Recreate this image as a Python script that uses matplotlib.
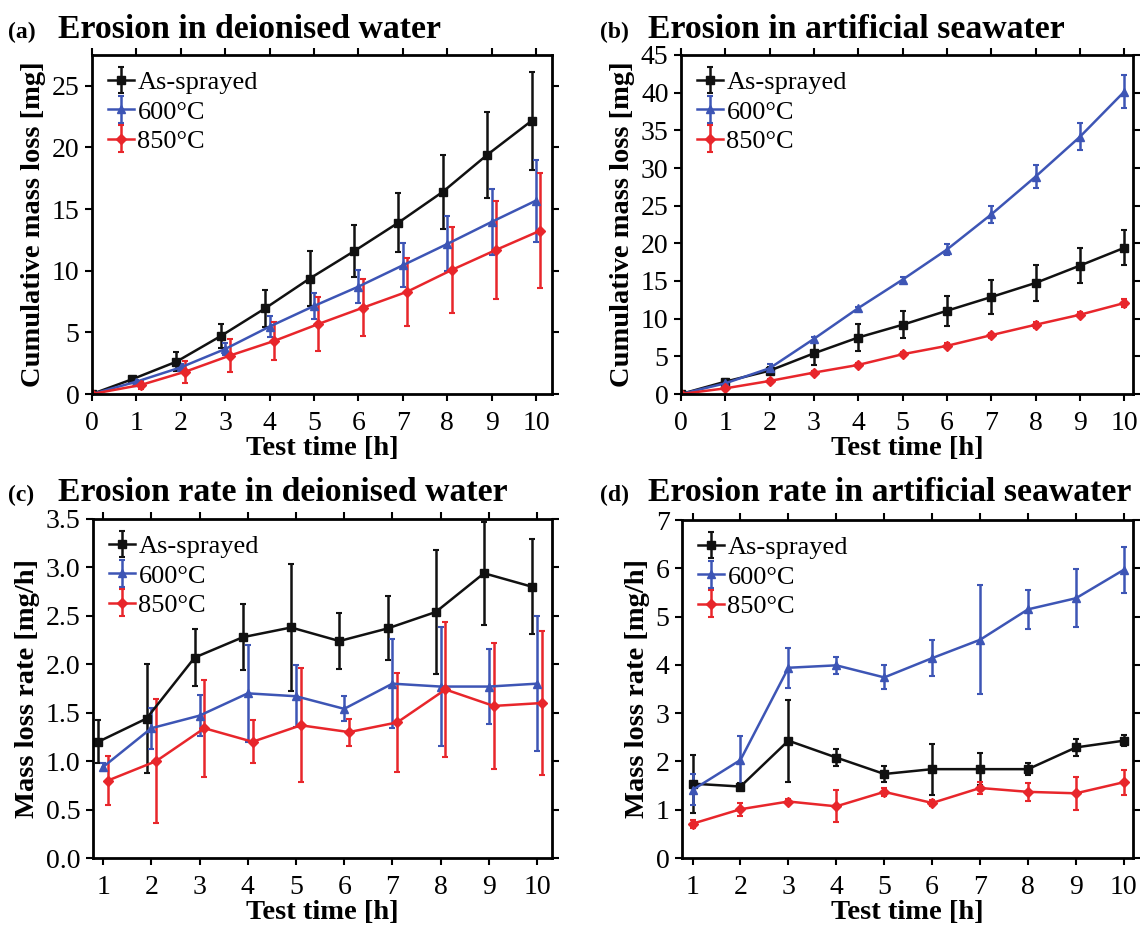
import matplotlib
matplotlib.use('Agg')
import matplotlib.pyplot as plt
import numpy as np

plt.rcParams['font.family'] = ['Liberation Serif', 'DejaVu Serif']

labels = ['As-sprayed', '600°C', '850°C']
colors = ['#111111', '#3d55b5', '#e8262b']
markers = ['s', '^', 'D']

time_cum = [0, 1, 2, 3, 4, 5, 6, 7, 8, 9, 10]
time_rate = [1, 2, 3, 4, 5, 6, 7, 8, 9, 10]

# (a) cumulative mass loss, deionised water
a_as = [0, 1.19, 2.62, 4.70, 6.95, 9.36, 11.58, 13.90, 16.40, 19.40, 22.16]
a_as_err = [0, 0.2, 0.76, 0.97, 1.49, 2.2, 2.1, 2.4, 3.0, 3.5, 3.95]
a_600 = [0, 1.00, 2.16, 3.65, 5.47, 7.14, 8.71, 10.44, 12.17, 13.96, 15.69]
a_600_err = [0, 0.15, 0.3, 0.5, 0.84, 1.05, 1.35, 1.8, 2.23, 2.7, 3.33]
a_850 = [0, 0.73, 1.81, 3.11, 4.30, 5.68, 7.00, 8.30, 10.06, 11.69, 13.26]
a_850_err = [0, 0.3, 0.88, 1.35, 1.54, 2.16, 2.3, 2.77, 3.46, 4.0, 4.7]

# (b) cumulative mass loss, artificial seawater
b_as = [0, 1.64, 3.10, 5.40, 7.50, 9.19, 11.05, 12.87, 14.74, 17.04, 19.40]
b_as_err = [0, 0.3, 0.5, 1.55, 1.8, 1.8, 2.0, 2.3, 2.45, 2.35, 2.33]
b_600 = [0, 1.42, 3.42, 7.32, 11.40, 15.18, 19.17, 23.83, 28.85, 34.13, 40.12]
b_600_err = [0, 0.2, 0.6, 0.3, 0.2, 0.4, 0.7, 1.1, 1.55, 1.8, 2.2]
b_850 = [0, 0.75, 1.73, 2.84, 3.86, 5.28, 6.39, 7.81, 9.19, 10.52, 12.07]
b_850_err = [0, 0.2, 0.2, 0.2, 0.25, 0.3, 0.35, 0.35, 0.4, 0.35, 0.58]

# (c) mass loss rate, deionised water
c_as = [1.20, 1.44, 2.07, 2.28, 2.38, 2.24, 2.37, 2.54, 2.94, 2.80]
c_as_err = [0.22, 0.56, 0.29, 0.34, 0.66, 0.29, 0.33, 0.64, 0.53, 0.49]
c_600 = [0.94, 1.34, 1.47, 1.70, 1.67, 1.54, 1.80, 1.77, 1.77, 1.80]
c_600_err = [0.04, 0.21, 0.21, 0.50, 0.32, 0.13, 0.46, 0.61, 0.39, 0.70]
c_850 = [0.80, 1.00, 1.34, 1.20, 1.37, 1.30, 1.40, 1.74, 1.57, 1.60]
c_850_err = [0.25, 0.64, 0.50, 0.22, 0.59, 0.14, 0.51, 0.70, 0.65, 0.74]

# (d) mass loss rate, artificial seawater
d_as = [1.54, 1.48, 2.43, 2.08, 1.74, 1.84, 1.84, 1.84, 2.29, 2.43]
d_as_err = [0.60, 0.08, 0.85, 0.17, 0.16, 0.53, 0.33, 0.12, 0.17, 0.11]
d_600 = [1.41, 2.03, 3.94, 3.99, 3.74, 4.14, 4.52, 5.15, 5.38, 5.97]
d_600_err = [0.32, 0.49, 0.41, 0.17, 0.25, 0.37, 1.13, 0.40, 0.60, 0.48]
d_850 = [0.71, 1.01, 1.17, 1.07, 1.37, 1.14, 1.45, 1.37, 1.34, 1.57]
d_850_err = [0.08, 0.13, 0.05, 0.33, 0.08, 0.07, 0.12, 0.19, 0.34, 0.26]

fig = plt.figure(figsize=(11.45, 9.27), dpi=100)

W, H = 1145.0, 927.0
def rect(l, t, r, b):
    return [l / W, 1 - b / H, (r - l) / W, (b - t) / H]

panels = [
    dict(rect=rect(92, 55, 552, 394), x=time_cum,
         ys=[(a_as, a_as_err), (a_600, a_600_err), (a_850, a_850_err)],
         shift=[-0.1, 0.0, 0.1], xlim=(0, 10.36), ylim=(0, 27.5),
         xticks=range(0, 11), yticks=range(0, 26, 5), yfmt='{:.0f}',
         ylabel='Cumulative mass loss [mg]',
         tag='(a)', title='Erosion in deionised water', tpos=(8, 58, 38)),
    dict(rect=rect(681, 55, 1133, 394), x=time_cum,
         ys=[(b_as, b_as_err), (b_600, b_600_err), (b_850, b_850_err)],
         shift=[0.0, 0.0, 0.0], xlim=(0, 10.2), ylim=(0, 45),
         xticks=range(0, 11), yticks=range(0, 46, 5), yfmt='{:.0f}',
         ylabel='Cumulative mass loss [mg]',
         tag='(b)', title='Erosion in artificial seawater', tpos=(600, 648, 38)),
    dict(rect=rect(93, 519, 552, 858), x=time_rate,
         ys=[(c_as, c_as_err), (c_600, c_600_err), (c_850, c_850_err)],
         shift=[-0.1, 0.0, 0.1], xlim=(0.79, 10.31), ylim=(0, 3.5),
         xticks=range(1, 11), yticks=np.arange(0, 3.51, 0.5), yfmt='{:.1f}',
         ylabel='Mass loss rate [mg/h]',
         tag='(c)', title='Erosion rate in deionised water', tpos=(8, 58, 501)),
    dict(rect=rect(682, 520, 1133, 858), x=time_rate,
         ys=[(d_as, d_as_err), (d_600, d_600_err), (d_850, d_850_err)],
         shift=[0.0, 0.0, 0.0], xlim=(0.78, 10.19), ylim=(0, 7),
         xticks=range(1, 11), yticks=range(0, 8), yfmt='{:.0f}',
         ylabel='Mass loss rate [mg/h]',
         tag='(d)', title='Erosion rate in artificial seawater', tpos=(600, 648, 501)),
]

for p in panels:
    ax = fig.add_axes(p['rect'])
    for (y, e), c, m, lab, s in zip(p['ys'], colors, markers, labels, p['shift']):
        xs = np.array(p['x'], dtype=float)
        xs = np.where(xs > 0, xs + s, xs)
        ax.errorbar(xs, y, yerr=e, color=c, marker=m, markersize=5.5,
                    linewidth=1.8, elinewidth=1.8, capsize=2.5, capthick=1.5,
                    label=lab)
    ax.set_xlim(*p['xlim'])
    ax.set_ylim(*p['ylim'])
    ax.set_xticks(list(p['xticks']))
    ax.set_yticks(list(p['yticks']))
    ax.set_yticklabels([p['yfmt'].format(v) for v in p['yticks']])
    ax.tick_params(direction='out', length=5, width=1.5, labelsize=20,
                   top=True, right=True)
    ax.tick_params(axis='x', pad=7)
    ax.tick_params(axis='y', pad=4)
    for sp in ax.spines.values():
        sp.set_linewidth(2)
    ax.set_xlabel('Test time [h]', fontsize=20.5, fontweight='bold', labelpad=0)
    ax.set_ylabel(p['ylabel'], fontsize=20.5, fontweight='bold', labelpad=4)
    ax.legend(loc='upper left', frameon=False, fontsize=19,
              handlelength=1.0, handletextpad=0.12, labelspacing=0.22,
              borderaxespad=0.0, borderpad=0.6)
    tx, mx, ty = p['tpos']
    fig.text(tx / W, 1 - ty / H, p['tag'], fontsize=17, fontweight='bold',
             va='baseline', ha='left')
    fig.text(mx / W, 1 - ty / H, p['title'], fontsize=24.3, fontweight='bold',
             va='baseline', ha='left')

fig.savefig('out.png', dpi=100)
